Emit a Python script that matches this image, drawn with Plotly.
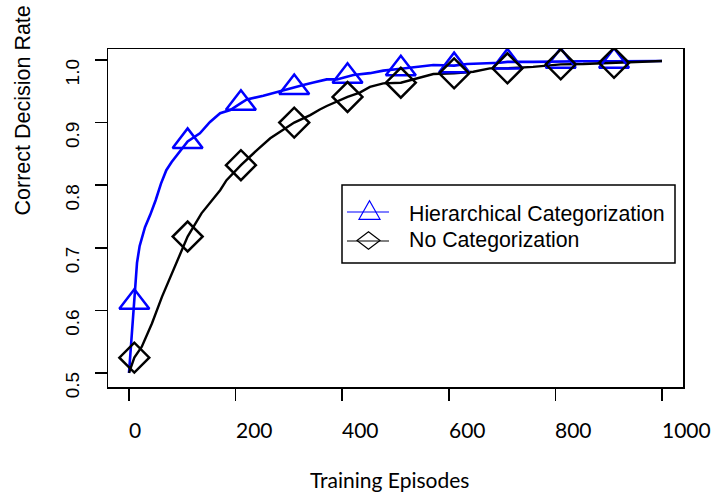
import plotly.graph_objects as go

# ---------------- data ----------------
episodes_hier = [0, 10, 15, 20, 30, 40, 50, 60, 70, 80, 90, 100, 110, 133, 152, 171, 190,
                 210, 221, 252, 277, 290, 310, 327, 346, 371, 390, 410, 421, 452, 477,
                 510, 540, 571, 610, 634, 696, 710, 758, 810, 852, 910, 1000]
rate_hier = [0.500, 0.613, 0.676, 0.703, 0.733, 0.753, 0.776, 0.8025, 0.824, 0.837, 0.848,
             0.860, 0.870, 0.883, 0.901, 0.915, 0.920, 0.931, 0.937, 0.943, 0.949, 0.952,
             0.956, 0.960, 0.964, 0.969, 0.969, 0.974, 0.976, 0.979, 0.983, 0.986, 0.989,
             0.992, 0.991, 0.9936, 0.9957, 0.997, 0.997, 0.998, 0.998, 0.998, 0.9984]

episodes_none = [0, 10, 24, 43, 62, 81, 99, 110, 136, 171, 183, 210, 240, 265, 310, 340,
                 358, 371, 410, 433, 452, 477, 510, 540, 571, 610, 646, 677, 710, 758,
                 810, 852, 910, 1000]
rate_none = [0.500, 0.5245, 0.542, 0.579, 0.622, 0.659, 0.6965, 0.718, 0.755, 0.792, 0.808,
             0.832, 0.856, 0.875, 0.900, 0.912, 0.921, 0.9265, 0.941, 0.948, 0.957, 0.9627,
             0.9637, 0.971, 0.9776, 0.9787, 0.9813, 0.9867, 0.9867, 0.989, 0.9931, 0.9936,
             0.9955, 0.9984]

marker_episodes = [10, 110, 210, 310, 410, 510, 610, 710, 810, 910]

series_names = ["Hierarchical Categorization", "No Categorization"]
x_ticks = [0, 200, 400, 600, 800, 1000]
x_tick_labels = ["0", "200", "400", "600", "800", "1000"]
y_ticks = [0.5, 0.6, 0.7, 0.8, 0.9, 1.0]
y_tick_labels = ["0.5", "0.6", "0.7", "0.8", "0.9", "1.0"]
x_title = "Training Episodes"
y_title = "Correct Decision Rate"

# ---------------- layout geometry (pixels) ----------------
W, H = 712, 494
ML, MR, MT, MB = 108, 29, 49, 107
PW, PH = W - ML - MR, H - MT - MB


def px(xp):
    return (xp - ML) / PW


def py(yp):
    return (H - MB - yp) / PH


BLUE = "#0000FF"
BLACK = "#000000"

hier_lookup = dict(zip(episodes_hier, rate_hier))
none_lookup = dict(zip(episodes_none, rate_none))

fig = go.Figure()

fig.add_trace(go.Scatter(x=episodes_hier, y=rate_hier, mode="lines",
                         line=dict(color=BLUE, width=2.6), showlegend=False,
                         name=series_names[0]))
fig.add_trace(go.Scatter(x=episodes_none, y=rate_none, mode="lines",
                         line=dict(color=BLACK, width=2.4), showlegend=False,
                         name=series_names[1]))
fig.add_trace(go.Scatter(x=marker_episodes, y=[hier_lookup[e] for e in marker_episodes],
                         mode="markers", showlegend=False, name=series_names[0],
                         marker=dict(symbol="triangle-up-open", size=26,
                                     color=BLUE, line=dict(color=BLUE, width=2.5))))
fig.add_trace(go.Scatter(x=marker_episodes, y=[none_lookup[e] for e in marker_episodes],
                         mode="markers", showlegend=False, name=series_names[1],
                         marker=dict(symbol="diamond-open", size=23,
                                     color=BLACK, line=dict(color=BLACK, width=2.5))))

shapes = []
# legend box
shapes.append(dict(type="rect", xref="paper", yref="paper",
                   x0=px(342), x1=px(675), y0=py(263), y1=py(185),
                   line=dict(color=BLACK, width=1.5), fillcolor="white", layer="above"))
# legend line samples
for yy, col in [(212, BLUE), (241, BLACK)]:
    shapes.append(dict(type="line", xref="paper", yref="paper",
                       x0=px(347), x1=px(389), y0=py(yy), y1=py(yy),
                       line=dict(color=col, width=1.2), layer="above"))
# legend triangle
tri = "M {:.5f},{:.5f} L {:.5f},{:.5f} L {:.5f},{:.5f} Z".format(
    px(359), py(219.3), px(380), py(219.3), px(369.5), py(200.7))
shapes.append(dict(type="path", xref="paper", yref="paper", path=tri,
                   line=dict(color=BLUE, width=1.2), layer="above"))
# legend diamond
dia = "M {:.5f},{:.5f} L {:.5f},{:.5f} L {:.5f},{:.5f} L {:.5f},{:.5f} Z".format(
    px(357), py(240.5), px(368.5), py(231.7), px(380), py(240.5), px(368.5), py(249.3))
shapes.append(dict(type="path", xref="paper", yref="paper", path=dia,
                   line=dict(color=BLACK, width=1.2), layer="above"))

annotations = []
for name, yy in zip(series_names, [214, 240.5]):
    annotations.append(dict(text=name, xref="paper", yref="paper", x=px(407), y=py(yy),
                            xanchor="left", yanchor="middle", showarrow=False,
                            font=dict(family="Liberation Sans", size=21.3, color=BLACK)))
# x tick labels (left-aligned at the ticks, as in the reference)
for v, t in zip(x_ticks, x_tick_labels):
    annotations.append(dict(text=t, xref="x", yref="paper", x=v, y=py(429.5),
                            xanchor="left", xshift=-2, yanchor="middle", showarrow=False,
                            font=dict(family="Lato", size=21, color=BLACK)))
annotations.append(dict(text=x_title, xref="paper", yref="paper", x=px(389.5), y=py(479.5),
                        xanchor="center", yanchor="middle", showarrow=False,
                        font=dict(family="Lato", size=21, color=BLACK)))
annotations.append(dict(text=y_title, xref="paper", yref="paper", x=px(22.5), y=py(111),
                        xanchor="center", yanchor="middle", textangle=-90, showarrow=False,
                        font=dict(family="Liberation Sans", size=21.5, color=BLACK)))

fig.update_layout(
    width=W, height=H,
    margin=dict(l=ML, r=MR, t=MT, b=MB, pad=0),
    paper_bgcolor="white", plot_bgcolor="white",
    showlegend=False,
    shapes=shapes, annotations=annotations,
    xaxis=dict(range=[-39.4, 1039.4], tickvals=x_ticks, showticklabels=False,
               ticks="outside", ticklen=12, tickwidth=1.5, tickcolor=BLACK,
               showline=True, linecolor=BLACK, linewidth=1.5, mirror=True,
               showgrid=False, zeroline=False),
    yaxis=dict(range=[0.4776, 1.0176], tickvals=y_ticks, ticktext=y_tick_labels,
               tickangle=-90, ticklabelshift=15, ticklabelstandoff=8,
               tickfont=dict(family="Liberation Sans", size=19, color=BLACK),
               ticks="outside", ticklen=12, tickwidth=1.5, tickcolor=BLACK,
               showline=True, linecolor=BLACK, linewidth=1.5, mirror=True,
               showgrid=False, zeroline=False),
)

fig.write_html("out.html",
               config={"displayModeBar": False, "staticPlot": True},
               post_script="document.body.style.margin='0px';"
                           "document.body.style.overflow='hidden';")
